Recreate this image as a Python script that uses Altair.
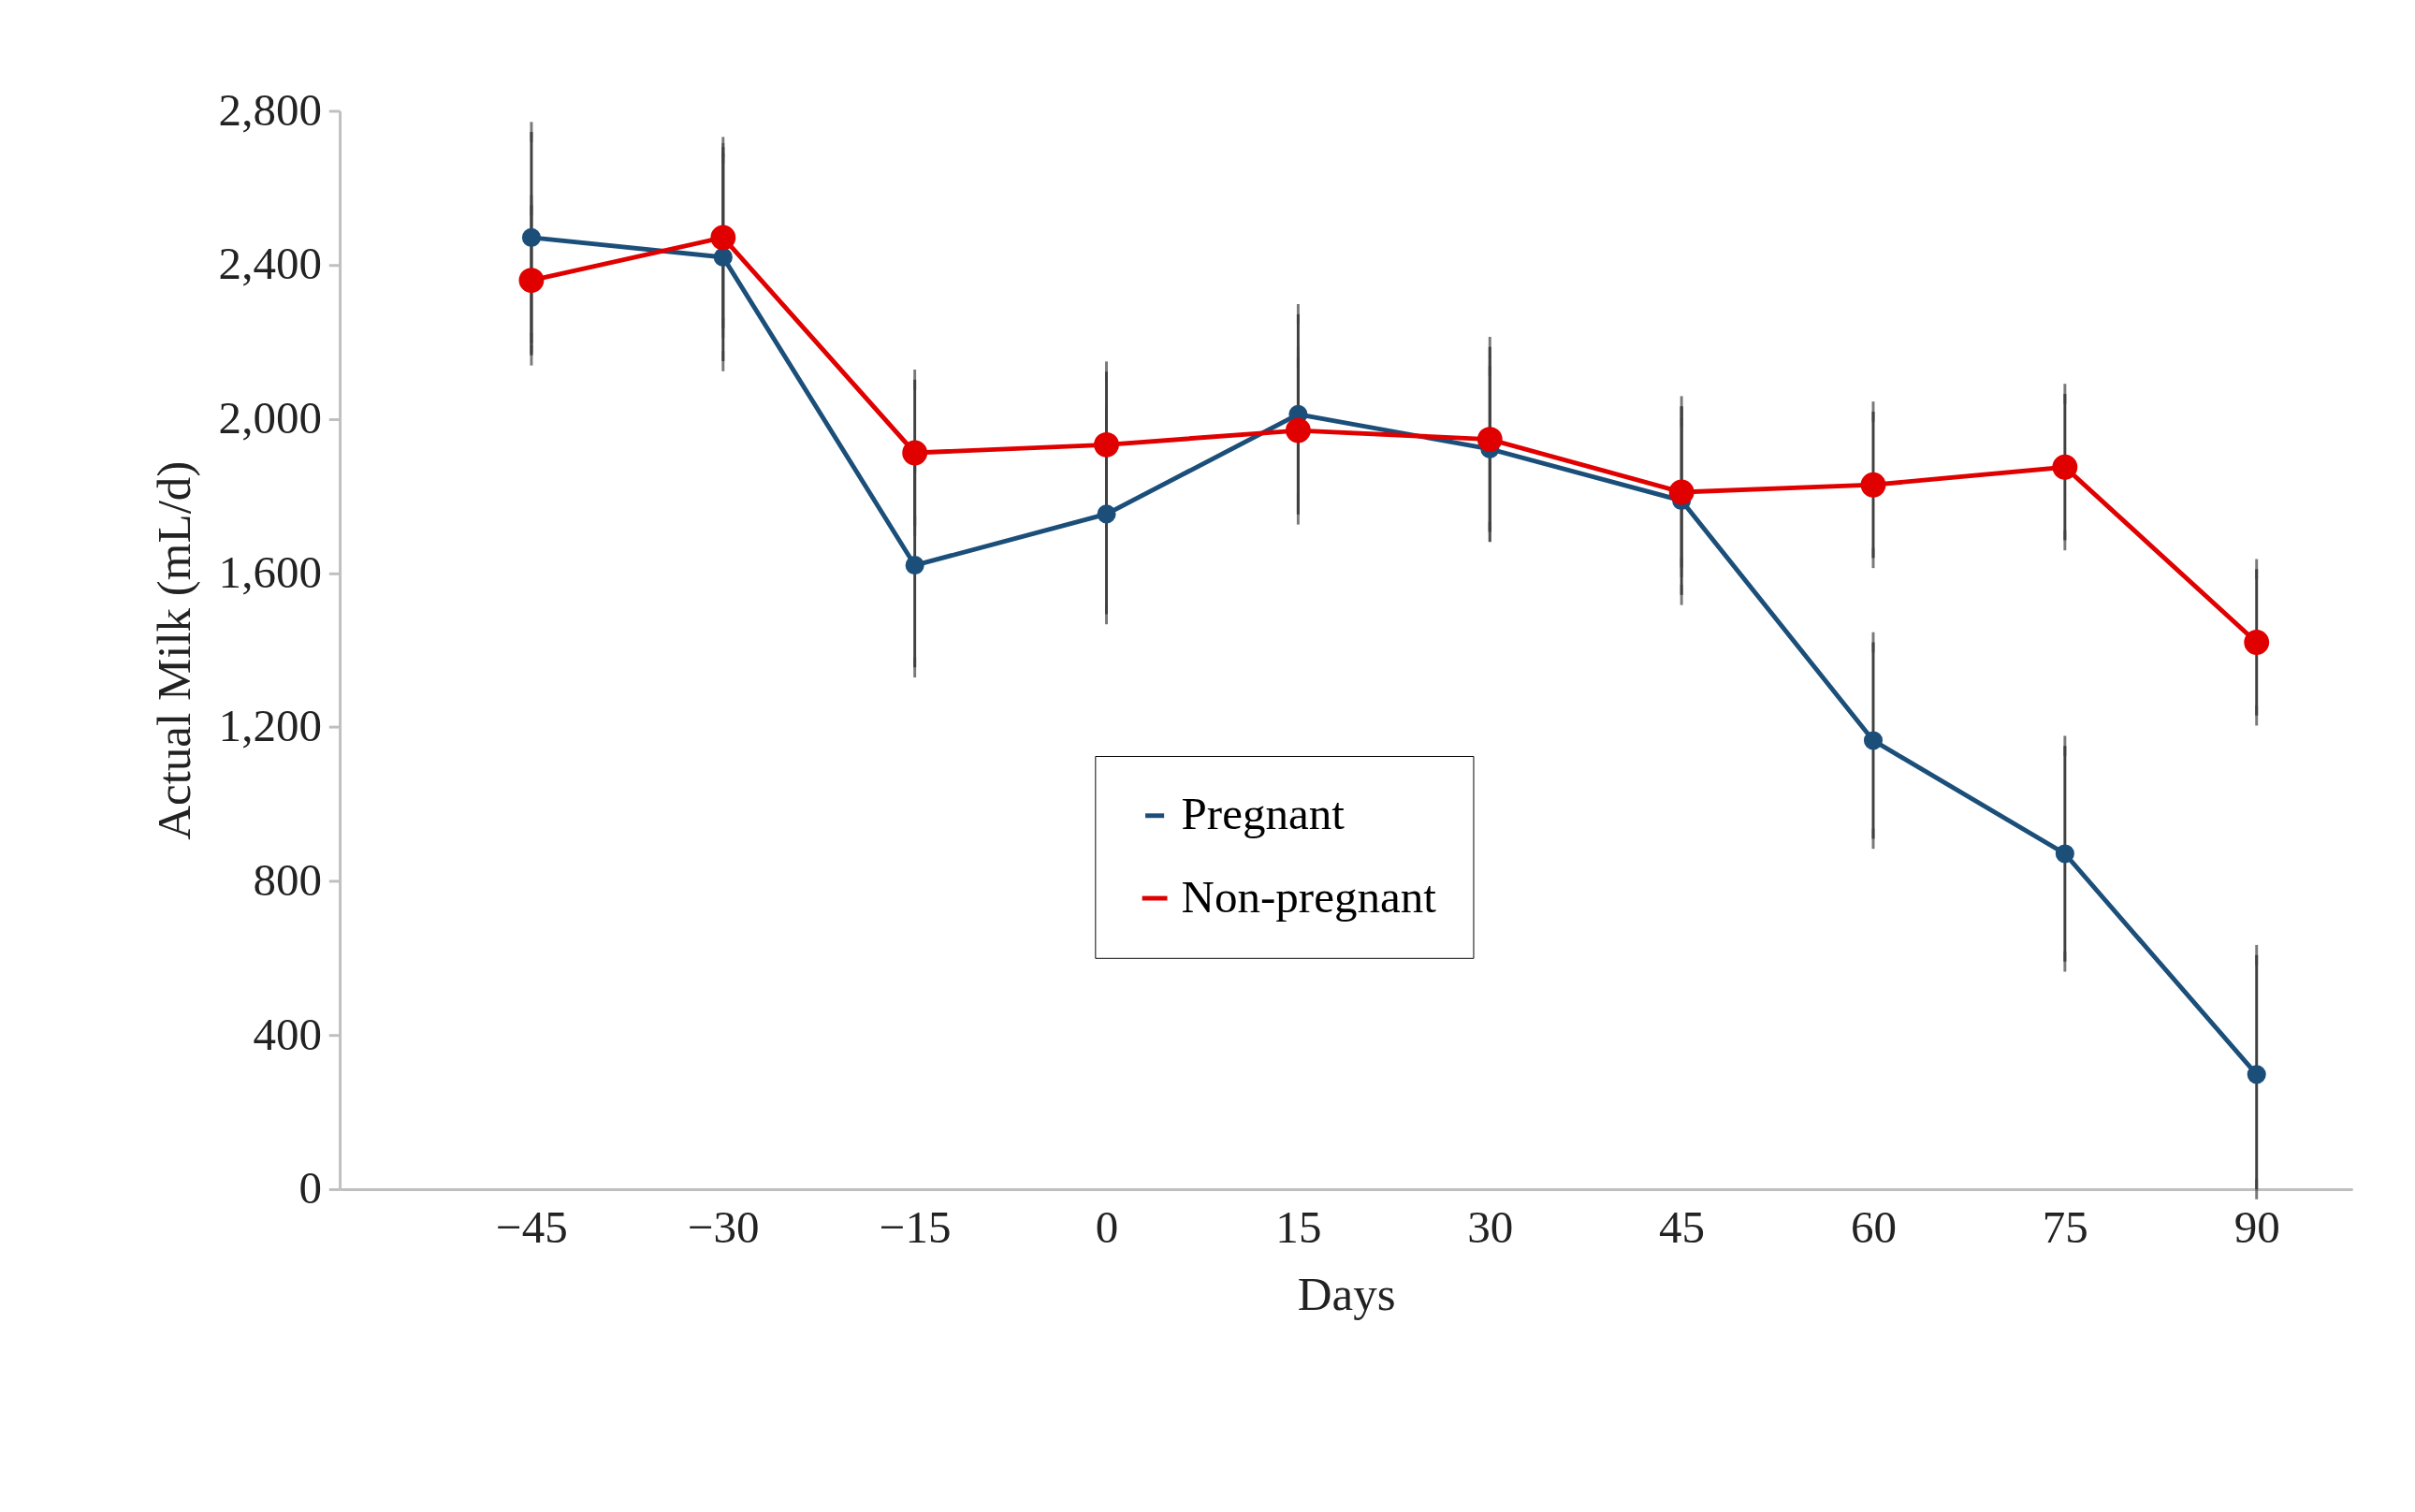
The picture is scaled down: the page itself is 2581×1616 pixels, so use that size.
import pandas as pd
import altair as alt

days = [-45, -30, -15, 0, 15, 30, 45, 60, 75, 90]
pregnant = [2471, 2420, 1620, 1753, 2012, 1922, 1788, 1165, 871, 298]
pregnant_err = [274, 270, 265, 260, 260, 215, 245, 255, 280, 310]
nonpregnant = [2360, 2471, 1912, 1933, 1970, 1947, 1810, 1829, 1875, 1420]
nonpregnant_err = [195, 235, 190, 190, 190, 240, 195, 190, 190, 190]

rows = []
for d, v, e in zip(days, pregnant, pregnant_err):
    rows.append({"day": d, "milk": v, "lo": max(v - e, 0), "hi": v + e, "group": "Pregnant"})
for d, v, e in zip(days, nonpregnant, nonpregnant_err):
    rows.append({"day": d, "milk": v, "lo": v - e, "hi": v + e, "group": "Non-pregnant"})
df = pd.DataFrame(rows)

FONT = "Liberation Serif"
x = alt.X("day:Q", scale=alt.Scale(domain=[-60, 97.5], nice=False, zero=False),
          axis=alt.Axis(values=days, title="Days", grid=False, ticks=False, domain=True,
                        domainColor="#bfbfbf", domainWidth=3, labelPadding=18, titlePadding=22))
y = alt.Y("milk:Q", scale=alt.Scale(domain=[0, 2800], nice=False),
          axis=alt.Axis(values=list(range(0, 2801, 400)), title="Actual Milk (mL/d)", grid=False,
                        tickSize=12, tickColor="#bfbfbf", tickWidth=3, domainColor="#bfbfbf",
                        domainWidth=3, labelPadding=8, titlePadding=20))
color = alt.Color("group:N", scale=alt.Scale(domain=["Pregnant", "Non-pregnant"],
                                             range=["#1B4F7A", "#E00000"]),
                  legend=alt.Legend(title=None, orient="none", legendX=823, legendY=703,
                                    strokeColor="black", padding=40, labelFontSize=50,
                                    labelFont=FONT, symbolType="stroke", symbolSize=2000,
                                    symbolStrokeWidth=5, rowPadding=40, labelLimit=600,
                                    offset=0))

base = alt.Chart(df)
err = base.mark_rule(color="#404040", strokeWidth=3).encode(x=x, y="lo:Q", y2="hi:Q")
cap_lo = base.mark_tick(color="#404040", thickness=3, size=22).encode(x=x, y="lo:Q")
cap_hi = base.mark_tick(color="#404040", thickness=3, size=22).encode(x=x, y="hi:Q")
lines = base.mark_line(strokeWidth=5).encode(x=x, y=y, color=color)
pts = base.mark_circle(opacity=1).encode(
    x=x, y="milk:Q", color=alt.Color("group:N", legend=None,
                                     scale=alt.Scale(domain=["Pregnant", "Non-pregnant"],
                                                     range=["#1B4F7A", "#E00000"])),
    size=alt.Size("group:N", legend=None,
                  scale=alt.Scale(domain=["Pregnant", "Non-pregnant"], range=[420, 750])))

chart = alt.layer(err, cap_lo, cap_hi, lines, pts).properties(
    width=2193, height=1175,
    autosize=alt.AutoSizeParams(type="none"),
    padding={"left": 362, "top": 97, "right": 60, "bottom": 330},
).configure_axis(
    labelFont=FONT, titleFont=FONT, labelFontSize=50, titleFontSize=52,
    labelColor="#222", titleColor="#222", titleFontWeight="normal",
).configure_view(stroke=None)

chart.save("out.html", embed_options={"renderer": "svg", "actions": False})
